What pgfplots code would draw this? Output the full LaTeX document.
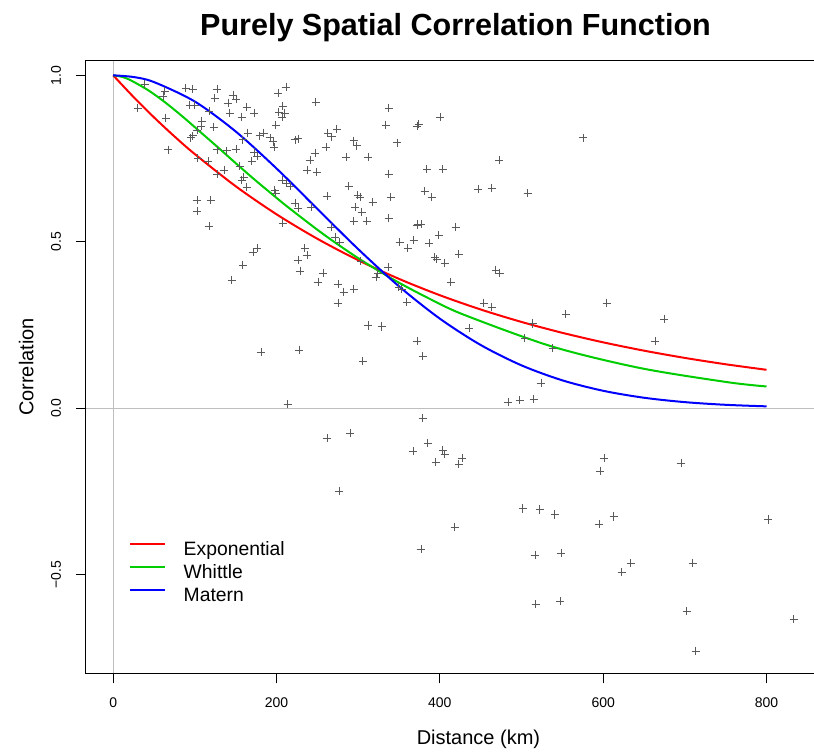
\documentclass[border=0pt]{standalone}
\usepackage{pgfplots}
\pgfplotsset{compat=1.18}
\usepackage{fontspec}
\setmainfont{Liberation Sans}
\definecolor{rgreen}{HTML}{00CD00}
\definecolor{rgray}{HTML}{BEBEBE}
\definecolor{ptgray}{HTML}{5A5A5A}
\begin{document}
\begin{tikzpicture}
\begin{axis}[
  scale only axis, width=550.5pt, height=459.45pt,
  xmin=-33.3, xmax=865.5, ymin=-0.797, ymax=1.044,
  axis line style={line width=0.75pt, black},
  tick align=outside, major tick length=7.5pt,
  xtick pos=lower, ytick pos=left,
  every tick/.style={black, line width=0.75pt},
  xtick={0,200,400,600,800}, xticklabels={0,200,400,600,800},
  ytick={-0.5,0,0.5,1}, yticklabels={−0.5,0.0,0.5,1.0},
  /pgf/number format/assume math mode=true,
  tick label style={font=\fontsize{10.5}{12.6}\selectfont},
  xticklabel style={inner sep=0pt, anchor=north, yshift=-10.8pt},
  yticklabel style={inner sep=0pt, rotate=90, anchor=base, yshift=11.25pt},
  title={Purely Spatial Correlation Function},
  every axis title/.style={at={(axis description cs:0.5034,1)}, anchor=base, yshift=18.6pt, inner sep=0pt, font=\bfseries\fontsize{22.9}{27}\selectfont},
  xlabel={Distance (km)}, ylabel={Correlation},
  every axis x label/.style={at={(axis description cs:0.5347,0)}, anchor=base, yshift=-53.4pt, inner sep=0pt, font=\fontsize{15}{18}\selectfont},
  every axis y label/.style={at={(axis description cs:0,0.5)}, rotate=90, anchor=base, yshift=39.5pt, inner sep=0pt, font=\fontsize{15}{18}\selectfont},
  legend style={draw=none, fill=none, at={(rel axis cs:0.0586,0.2156)}, anchor=north west, inner sep=0pt, outer sep=0pt, row sep=3.75pt,
    font=\fontsize{14.5}{17}\selectfont,
    nodes={inner sep=0pt, text height=10.5pt, text depth=3pt},
    /tikz/every odd column/.append style={column sep=13.3pt}},
  legend cell align=left,
  legend image code/.code={\draw[#1, line width=1.5pt] (0pt,4.5pt) -- (26.25pt,4.5pt);},
]
\draw[rgray, line width=0.75pt] (axis cs:0,-0.797) -- (axis cs:0,1.044);
\draw[rgray, line width=0.75pt] (axis cs:-33.3,0) -- (axis cs:865.5,0);
\addplot[only marks, mark=+, mark size=3.2pt, color=ptgray, mark options={line width=0.6pt}, forget plot] table {
x y
38.8 0.974
63.3 0.953
60.9 0.938
89.0 0.962
97.6 0.959
127.0 0.959
124.5 0.932
146.6 0.941
150.3 0.929
140.5 0.917
163.7 0.905
172.3 0.887
93.9 0.911
100.0 0.911
117.2 0.893
142.9 0.887
157.6 0.875
108.6 0.863
30.2 0.902
64.5 0.872
123.3 0.845
107.4 0.848
102.5 0.836
97.6 0.818
95.1 0.812
164.9 0.827
158.8 0.806
127.0 0.776
139.2 0.773
150.3 0.778
172.3 0.769
169.8 0.742
176.0 0.757
67.0 0.776
103.7 0.751
116.0 0.742
135.6 0.715
127.0 0.703
155.1 0.727
160.0 0.694
157.6 0.685
163.7 0.664
102.5 0.625
119.6 0.625
102.5 0.592
117.2 0.547
171.1 0.469
176.0 0.481
158.8 0.430
145.3 0.385
211.5 0.965
201.7 0.947
248.2 0.920
337.6 0.902
371.9 0.848
333.9 0.851
347.4 0.797
207.8 0.908
202.9 0.890
210.2 0.887
206.6 0.875
199.2 0.851
184.5 0.827
179.6 0.818
191.9 0.812
196.8 0.784
195.6 0.800
222.5 0.806
226.2 0.809
262.9 0.827
267.8 0.815
273.9 0.839
260.5 0.784
294.7 0.803
298.4 0.788
285.0 0.754
311.9 0.754
247.0 0.766
240.9 0.745
237.2 0.715
249.4 0.709
337.6 0.703
206.6 0.685
212.7 0.676
216.4 0.667
198.0 0.655
199.2 0.646
288.6 0.667
299.6 0.640
302.1 0.634
261.7 0.637
340.0 0.634
222.5 0.616
226.2 0.601
242.1 0.604
296.0 0.604
304.5 0.589
318.0 0.619
294.7 0.562
310.6 0.562
337.6 0.571
371.9 0.550
207.8 0.556
266.6 0.544
271.5 0.514
277.6 0.499
234.7 0.481
237.2 0.460
226.2 0.445
228.7 0.412
256.8 0.406
250.7 0.379
275.2 0.373
282.5 0.349
294.7 0.358
275.2 0.316
303.3 0.442
336.4 0.424
321.7 0.394
324.1 0.406
351.0 0.499
360.8 0.481
368.2 0.505
349.8 0.364
353.5 0.358
359.6 0.319
311.9 0.249
329.0 0.246
400.1 0.875
374.3 0.854
575.3 0.812
472.3 0.745
384.1 0.718
403.7 0.718
446.6 0.658
463.7 0.661
507.8 0.646
381.6 0.652
390.2 0.634
373.1 0.553
376.8 0.553
419.6 0.544
386.6 0.496
398.8 0.520
423.3 0.463
393.9 0.454
396.3 0.448
406.1 0.436
468.6 0.415
473.5 0.406
413.5 0.379
453.9 0.316
463.7 0.304
604.5 0.316
554.3 0.283
513.9 0.255
435.6 0.240
504.1 0.210
538.4 0.180
371.9 0.201
379.2 0.156
523.8 0.075
483.4 0.018
498.0 0.024
515.1 0.027
379.2 -0.030
674.6 0.268
663.6 0.201
181.1 0.168
227.4 0.174
305.7 0.141
213.9 0.012
261.7 -0.090
289.9 -0.075
276.4 -0.249
385.3 -0.105
367.0 -0.129
403.7 -0.126
406.1 -0.138
395.1 -0.162
427.0 -0.150
423.3 -0.168
501.6 -0.301
522.4 -0.304
540.8 -0.319
600.9 -0.150
596.0 -0.189
695.2 -0.165
594.8 -0.349
613.1 -0.325
801.7 -0.334
418.4 -0.358
376.8 -0.424
516.4 -0.442
548.3 -0.436
633.9 -0.466
622.9 -0.493
709.8 -0.466
517.6 -0.589
547.0 -0.580
702.4 -0.610
833.5 -0.634
713.4 -0.730
};
\addplot[red, line width=1.5pt, smooth] coordinates {
(0,1) (25,0.9347) (50,0.8736) (75,0.8165) (100,0.7632) (150,0.6667) (200,0.5824) (250,0.5088) (300,0.4445) (350,0.3883) (400,0.3392) (450,0.2963) (500,0.2589) (550,0.2262) (600,0.1976) (650,0.1726) (700,0.1508) (750,0.1317) (800,0.1151)
};
\addlegendentry{Exponential}
\addplot[rgreen, line width=1.5pt, smooth] coordinates {
(0,1) (10.75,0.9955) (21.5,0.985) (43,0.955) (64.5,0.917) (86,0.874) (107.5,0.828) (129,0.782) (150.5,0.735) (172,0.689) (193.5,0.645) (215,0.602) (258,0.5215) (301,0.449) (344,0.385) (387,0.329) (430,0.280) (537.5,0.185) (645,0.1205) (752.5,0.0778) (800,0.065)
};
\addlegendentry{Whittle}
\addplot[blue, line width=1.5pt, smooth] coordinates {
(0,1) (25,0.9949) (50,0.9797) (100,0.9212) (150,0.8313) (200,0.7201) (250,0.5986) (300,0.4777) (350,0.3658) (400,0.2688) (450,0.1896) (500,0.1284) (550,0.0834) (600,0.0520) (650,0.0311) (700,0.0179) (750,0.00987) (800,0.00523)
};
\addlegendentry{Matern}
\end{axis}
\pgfresetboundingbox
\path (-64.5pt,-59.0pt) rectangle (546pt,504.98pt);
\end{tikzpicture}
\end{document}
